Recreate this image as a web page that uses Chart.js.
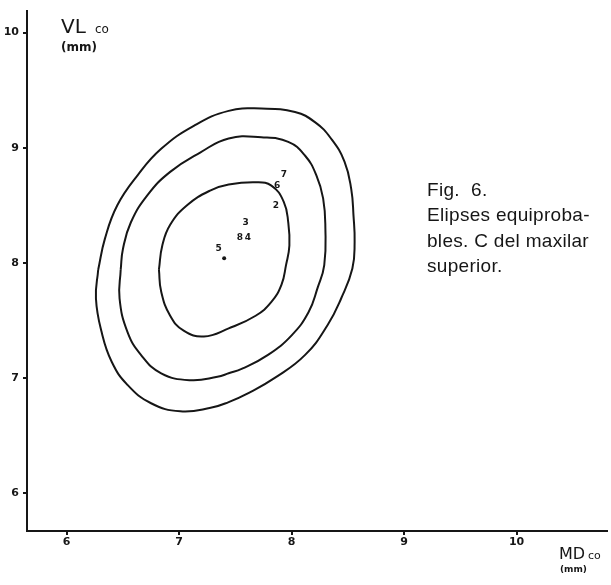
<!DOCTYPE html>
<html>
<head>
<meta charset="utf-8">
<script src="https://cdn.jsdelivr.net/npm/chart.js@4.4.1/dist/chart.umd.min.js"></script>
<style>
  html, body { margin: 0; padding: 0; background: #fff; }
  #wrap { width: 611px; height: 585px; position: relative; }
</style>
</head>
<body>
<div id="wrap"><canvas id="ellipseChart"></canvas></div>
<script>
// Tick values of both axes
const xTicks = [6, 7, 8, 9, 10];
const yTicks = [6, 7, 8, 9, 10];

// Equiprobable ellipses (MD = x, VL = y)
const outerMD = [6.28, 6.34, 6.45, 6.63, 6.84, 7.13, 7.44, 7.73, 8.03, 8.21, 8.35, 8.47, 8.53, 8.55, 8.56, 8.54, 8.44, 8.32, 8.12, 7.85, 7.62, 7.44, 7.28, 7.01, 6.75, 6.54, 6.40, 6.31, 6.26];
const outerVL = [7.94, 8.21, 8.50, 8.76, 8.99, 9.19, 9.32, 9.34, 9.31, 9.22, 9.08, 8.88, 8.64, 8.41, 8.18, 7.95, 7.69, 7.46, 7.20, 7.00, 6.87, 6.79, 6.74, 6.71, 6.78, 6.94, 7.14, 7.40, 7.69];

const middleMD = [6.48, 6.50, 6.57, 6.72, 6.92, 7.19, 7.44, 7.73, 7.97, 8.12, 8.22, 8.28, 8.30, 8.29, 8.23, 8.15, 8.00, 7.79, 7.56, 7.44, 7.34, 7.10, 6.84, 6.66, 6.54, 6.47];
const middleVL = [7.94, 8.12, 8.35, 8.59, 8.79, 8.96, 9.08, 9.09, 9.05, 8.93, 8.76, 8.56, 8.30, 7.98, 7.78, 7.57, 7.37, 7.20, 7.08, 7.04, 7.01, 6.98, 7.04, 7.20, 7.40, 7.69];

const innerMD = [6.82, 6.85, 6.92, 7.07, 7.28, 7.44, 7.68, 7.82, 7.93, 7.97, 7.98, 7.95, 7.91, 7.82, 7.68, 7.44, 7.22, 7.04, 6.92, 6.84];
const innerVL = [7.94, 8.15, 8.33, 8.50, 8.63, 8.68, 8.70, 8.67, 8.53, 8.35, 8.15, 7.98, 7.81, 7.66, 7.54, 7.43, 7.36, 7.41, 7.54, 7.75];

// Numbered samples and the mean
const pointLabels = ['7', '6', '2', '3', '8', '4', '5'];
const pointMD = [7.93, 7.87, 7.86, 7.59, 7.54, 7.61, 7.35];
const pointVL = [8.77, 8.67, 8.50, 8.35, 8.22, 8.22, 8.12];
const meanMD = [7.40];
const meanVL = [8.04];

const ink = '#161616';

// Turn two arrays into a closed list of {x, y}
function closedCurve(xs, ys) {
    const pts = xs.map((x, i) => ({ x: x, y: ys[i] }));
    pts.push({ x: xs[0], y: ys[0] });
    return pts;
}

function curveDataset(xs, ys) {
    return {
        data: closedCurve(xs, ys),
        showLine: true,
        borderColor: ink,
        borderWidth: 2,
        tension: 0.45,
        pointRadius: 0,
        fill: false
    };
}

// Numbers drawn at the sample positions
const numberLabels = {
    id: 'numberLabels',
    afterDatasetsDraw(chart) {
        const ctx = chart.ctx;
        const xs = chart.scales.x;
        const ys = chart.scales.y;
        ctx.save();
        ctx.fillStyle = ink;
        ctx.font = 'bold 9px "DejaVu Sans"';
        ctx.textAlign = 'center';
        ctx.textBaseline = 'middle';
        pointLabels.forEach((lbl, i) => {
            ctx.fillText(lbl, xs.getPixelForValue(pointMD[i]), ys.getPixelForValue(pointVL[i]));
        });
        ctx.restore();
    }
};

// Axis titles and caption
const annotations = {
    id: 'annotations',
    afterDraw(chart) {
        const ctx = chart.ctx;
        ctx.save();
        ctx.fillStyle = ink;
        ctx.textBaseline = 'alphabetic';
        ctx.textAlign = 'left';

        ctx.font = '20px "DejaVu Sans"';
        ctx.fillText('VL', 61, 33);
        ctx.font = '12px "DejaVu Sans"';
        ctx.fillText('co', 95, 33);
        ctx.font = 'bold 12px "DejaVu Sans"';
        ctx.fillText('(mm)', 61, 51);

        ctx.font = '16px "DejaVu Sans"';
        ctx.fillText('MD', 559, 559);
        ctx.font = '11px "DejaVu Sans"';
        ctx.fillText('co', 588, 559);
        ctx.font = 'bold 9px "DejaVu Sans"';
        ctx.fillText('(mm)', 560, 572);

        ctx.font = '19px "Liberation Sans"';
        ctx.letterSpacing = '0.3px';
        ctx.textBaseline = 'middle';
        const caption = ['Fig.  6.', 'Elipses equiproba-', 'bles. C del maxilar', 'superior.'];
        const rows = [191, 216, 242, 267];
        caption.forEach((line, i) => ctx.fillText(line, 427, rows[i]));
        ctx.restore();
    }
};

const whiteBg = {
    id: 'whiteBg',
    beforeDraw(chart) {
        const ctx = chart.ctx;
        ctx.save();
        ctx.fillStyle = '#ffffff';
        ctx.fillRect(0, 0, chart.width, chart.height);
        ctx.restore();
    }
};

const ctx = document.getElementById('ellipseChart').getContext('2d');
new Chart(ctx, {
    type: 'scatter',
    data: {
        datasets: [
            curveDataset(outerMD, outerVL),
            curveDataset(middleMD, middleVL),
            curveDataset(innerMD, innerVL),
            {
                data: meanMD.map((x, i) => ({ x: x, y: meanVL[i] })),
                pointRadius: 2,
                pointBackgroundColor: ink,
                pointBorderWidth: 0
            }
        ]
    },
    options: {
        responsive: true,
        maintainAspectRatio: false,
        animation: false,
        layout: { padding: { top: 10, right: 0, bottom: 0, left: 0 } },
        scales: {
            x: {
                type: 'linear',
                min: 5.647,
                max: 10.804,
                afterFit: (scale) => { scale.height = 54; },
                afterBuildTicks: (scale) => { scale.ticks = xTicks.map(v => ({ value: v })); },
                border: { display: true, color: ink, width: 2 },
                grid: { drawOnChartArea: false, drawTicks: true, tickLength: 4, color: ink, lineWidth: 2 },
                ticks: {
                    padding: 1,
                    color: ink,
                    maxRotation: 0,
                    font: { family: '"DejaVu Sans"', size: 11, weight: 'bold' }
                }
            },
            y: {
                type: 'linear',
                min: 5.670,
                max: 10.191,
                afterFit: (scale) => { scale.width = 27; },
                afterBuildTicks: (scale) => { scale.ticks = yTicks.map(v => ({ value: v })); },
                border: { display: true, color: ink, width: 2 },
                grid: { drawOnChartArea: false, drawTicks: true, tickLength: 4, color: ink, lineWidth: 2 },
                ticks: {
                    padding: 4,
                    color: ink,
                    font: { family: '"DejaVu Sans"', size: 11, weight: 'bold' }
                }
            }
        },
        plugins: {
            legend: { display: false },
            tooltip: { enabled: false }
        }
    },
    plugins: [whiteBg, numberLabels, annotations]
});
</script>
</body>
</html>
